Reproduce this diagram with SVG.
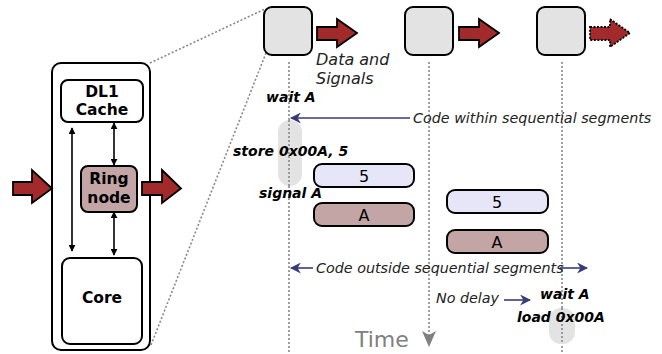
<svg xmlns="http://www.w3.org/2000/svg" width="662" height="354" viewBox="0 0 662 354">
<style>
text{font-family:"DejaVu Sans","Liberation Sans",sans-serif;fill:#000}
.box{fill:#fff;stroke:#000;stroke-width:2}
.node{fill:#e3e3e3;stroke:#000;stroke-width:2}
.red{fill:#a32a2a;stroke:#000;stroke-width:1.8;stroke-linejoin:miter}
.dot{fill:none;stroke:#888;stroke-width:1.6;stroke-dasharray:2,2}
.blk{stroke:#000;stroke-width:1.6;fill:none}
.navy{stroke:#3a3a78;stroke-width:1.6;fill:none}
.b{font-weight:bold;font-size:15.5px}
.bi{font-weight:bold;font-style:italic;font-size:14px}
.it{font-style:italic;font-size:14.3px;fill:#222}
.pill{fill:#e3e3e3}
.val{fill:#e6e6f8;stroke:#000;stroke-width:2}
.sig{fill:#c4a5a5;stroke:#000;stroke-width:2}
</style>
<defs>
<marker id="ah" viewBox="0 0 10 10" refX="9" refY="5" markerWidth="7" markerHeight="7" orient="auto-start-reverse" markerUnits="userSpaceOnUse"><path d="M0,0 L10,5 L0,10 z" fill="#000"/></marker>
<marker id="nv" viewBox="0 0 10 10" refX="9" refY="5" markerWidth="11" markerHeight="11" orient="auto-start-reverse" markerUnits="userSpaceOnUse"><path d="M0,0 L10,5 L0,10 L3,5 z" fill="#3a3a78"/></marker>
</defs>
<g id="outer"><rect class="box" x="52" y="63" width="98" height="287" rx="9"/></g>
<g id="connectors">
<line class="dot" x1="150" y1="63" x2="265" y2="9"/>
<line class="dot" x1="151" y1="345" x2="266" y2="53"/>
<line class="dot" x1="289" y1="62" x2="289" y2="352"/>
<line class="dot" x1="429" y1="62" x2="429" y2="338"/>
<line class="dot" x1="562" y1="62" x2="562" y2="354"/>
<line class="blk" x1="72" y1="128" x2="72" y2="251" marker-start="url(#ah)" marker-end="url(#ah)"/>
<line class="blk" x1="114" y1="123" x2="114" y2="165" marker-start="url(#ah)" marker-end="url(#ah)"/>
<line class="blk" x1="114" y1="212" x2="114" y2="255" marker-start="url(#ah)" marker-end="url(#ah)"/>
<line class="navy" x1="410" y1="118" x2="291" y2="118" marker-end="url(#nv)"/>
<line class="navy" x1="313" y1="268" x2="291" y2="268" marker-end="url(#nv)"/>
<line class="navy" x1="560" y1="268" x2="587" y2="268" marker-end="url(#nv)"/>
<line class="navy" x1="504" y1="300" x2="530" y2="300" marker-end="url(#nv)"/>
<path d="M422,331 L429,347 L436,331 L429,335 z" fill="#808080"/>
</g>
<g id="dl1"><rect class="box" x="61" y="80" width="82" height="42" rx="7"/>
<text class="b" x="102" y="97" text-anchor="middle">DL1</text>
<text class="b" x="102" y="115" text-anchor="middle">Cache</text></g>
<g id="ring"><rect class="sig" x="81" y="166" width="56" height="46" rx="7"/>
<text class="b" x="109" y="184" text-anchor="middle">Ring</text>
<text class="b" x="109" y="203" text-anchor="middle">node</text></g>
<g id="core"><rect class="box" x="62" y="258" width="80" height="86" rx="8"/>
<text class="b" x="102" y="303" text-anchor="middle">Core</text></g>
<g id="arrow-in"><path class="red" d="M13,182 L32,182 L32,170 L52,188.5 L32,203 L32,195 L13,195 z"/></g>
<g id="arrow-out"><path class="red" d="M142,182 L162,182 L162,170 L181,188.5 L162,203 L162,195 L142,195 z"/></g>
<g id="node1"><rect class="node" x="264" y="7" width="48" height="48" rx="8"/></g>
<g id="node2"><rect class="node" x="405" y="7" width="48" height="48" rx="8"/></g>
<g id="node3"><rect class="node" x="537" y="7" width="48" height="48" rx="8"/></g>
<g id="flow1"><path class="red" d="M317,27 L337,27 L337,19 L357,33 L337,47 L337,40 L317,40 z"/></g>
<g id="flow2"><path class="red" d="M459,27 L479,27 L479,19 L499,33 L479,47 L479,40 L459,40 z"/></g>
<g id="flow3"><path class="red" style="stroke-dasharray:2,1.5" d="M590,27 L610,27 L610,19 L630,33 L610,47 L610,40 L590,40 z"/></g>
<g id="labels">
<text class="it" x="316" y="65" style="font-size:16px">Data and</text>
<text class="it" x="316" y="84" style="font-size:16px">Signals</text>
<text class="bi" x="266" y="102">wait A</text>
<text class="it" x="413" y="123">Code within sequential segments</text>
<rect class="pill" x="278" y="120" width="24" height="66" rx="12"/>
<line class="dot" x1="289" y1="120" x2="289" y2="186"/>
<text class="bi" x="233" y="156">store 0x00A, 5</text>
<text class="bi" x="259" y="198">signal A</text>
<text class="it" x="316" y="273">Code outside sequential segments</text>
<text class="it" x="436" y="303">No delay</text>
<text class="bi" x="540" y="299">wait A</text>
<rect class="pill" x="549" y="308" width="26" height="36" rx="12"/>
<line class="dot" x1="562" y1="308" x2="562" y2="344"/>
<text class="bi" x="517" y="322">load 0x00A</text>
<text x="355" y="347" style="font-size:22px;fill:#808080">Time</text>
</g>
<g id="val1"><rect class="val" x="314" y="164" width="100" height="23" rx="8"/><text x="364" y="182" text-anchor="middle" style="font-size:16px">5</text></g>
<g id="sig1"><rect class="sig" x="314" y="203" width="100" height="23" rx="8"/><text x="364" y="221" text-anchor="middle" style="font-size:16px">A</text></g>
<g id="val2"><rect class="val" x="447" y="190" width="101" height="23" rx="8"/><text x="497" y="208" text-anchor="middle" style="font-size:16px">5</text></g>
<g id="sig2"><rect class="sig" x="447" y="230" width="101" height="23" rx="8"/><text x="497" y="248" text-anchor="middle" style="font-size:16px">A</text></g>
</svg>
